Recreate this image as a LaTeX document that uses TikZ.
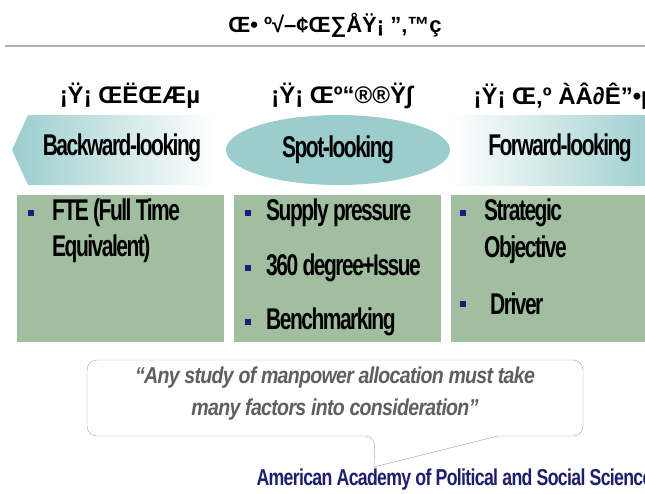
\documentclass[tikz,border=0pt]{standalone}
\usepackage{fontspec}
\setmainfont{Liberation Sans}
\newfontfamily\condfont{Liberation Sans}[FakeStretch=0.7,LetterSpace=-5]
\newfontfamily\quotefont{Liberation Sans}[FakeStretch=0.85,LetterSpace=-3]
\newfontfamily\sourcefont{Liberation Sans}[FakeStretch=0.77,LetterSpace=-3]
\usetikzlibrary{shapes.geometric}

\definecolor{tealfill}{RGB}{155,205,205}
\definecolor{sagefill}{RGB}{161,190,160}
\definecolor{bulletnavy}{RGB}{25,30,120}
\definecolor{quotegray}{RGB}{95,95,95}
\definecolor{sourcenavy}{RGB}{30,30,110}

\tikzset{
  big/.style={font=\condfont\fontsize{30}{36}\selectfont\bfseries},
  header/.style={font=\fontsize{24}{28}\selectfont\bfseries},
  bulletsq/.style={fill=bulletnavy,minimum size=6pt,inner sep=0pt},
  itemtext/.style={big,anchor=west,inner sep=0pt},
}

\begin{document}
\begin{tikzpicture}[x=1pt,y=-1pt]
    \useasboundingbox (0,0) rectangle (645,493);

    \node[font=\fontsize{22}{26}\selectfont\bfseries] (title) at (335,25) {Œ• º√–¢Œ∑ÅŸ¡ ”‚™ç};
    \draw[gray!60,line width=1.5pt] (5,46) -- (645,46);

    \node[header] (hdback) at (130,96) {¡Ÿ¡ ŒËŒÆµ};
    \node[header] (hdspot) at (342,96) {¡Ÿ¡ Œº“®®Ÿ∫};
    \node[header,anchor=west] (hdfwd) at (470,96) {¡Ÿ¡ Œ‚º ÀÂ∂Ê”•µ};

    \shade[left color=tealfill,right color=white] (12,150) -- (28,115) -- (215,115) -- (215,185) -- (28,185) -- cycle;
    \shade[left color=white,right color=tealfill] (450,115) rectangle (660,185);
    \node[ellipse,fill=tealfill,minimum width=224pt,minimum height=70pt] (spot) at (338,150) {};

    \node[big] (backward) at (122,148) {Backward-looking};
    \node[big] at (spot) {Spot-looking};
    \node[big] (forward) at (560,148) {Forward-looking};

    \foreach \x in {17,234,451} {
      \fill[sagefill] (\x,195) rectangle ++(207,147);
    }

    \foreach \x\y in {31/213,248/213,248/268,248/322,463/213,463/304} {
      \node[bulletsq] at (\x,\y) {};
    }

    \node[itemtext] (fte) at (52,213) {FTE (Full Time};
    \node[itemtext] (fte2) at (52,249) {Equivalent)};
    \node[itemtext] (supply) at (266,213) {Supply pressure};
    \node[itemtext] (degree) at (266,268) {360 degree+Issue};
    \node[itemtext] (bench) at (266,322) {Benchmarking};
    \node[itemtext] (strat) at (484,213) {Strategic};
    \node[itemtext] (strat2) at (484,250) {Objective};
    \node[itemtext] (driver) at (490,304) {Driver};

    \draw[gray!70,fill=white] (498,436) [rounded corners=10pt] -- (583,436) -- (583,360) -- (87,360) -- (87,436) -- (375,436) [sharp corners] -- (374,467) -- cycle;
    \node[quotegray,align=center,font=\quotefont\fontsize{23}{32}\selectfont\bfseries\itshape] (quote) at (335,394)
      {“Any study of manpower allocation must take\\ many factors into consideration”};

    \node[sourcenavy,anchor=west,font=\sourcefont\fontsize{23}{28}\selectfont\bfseries] (source) at (253,480) {American Academy of Political and Social Science};
\end{tikzpicture}
\end{document}
